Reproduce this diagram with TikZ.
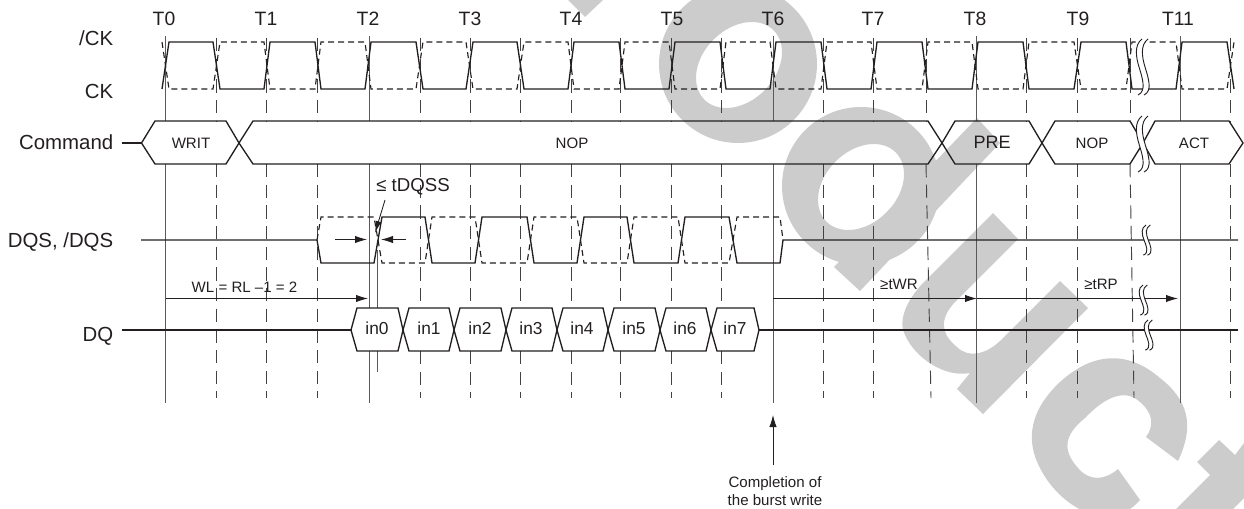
\documentclass[tikz,border=0pt]{standalone}
\usepackage{fontspec}
\setmainfont{Liberation Sans}
\usetikzlibrary{arrows.meta}
\definecolor{ink}{HTML}{231F20}
\definecolor{wm}{HTML}{CCCCCC}
\definecolor{vline}{HTML}{5A5A5A}
\tikzset{
  wave/.style={draw=ink,line width=1.0pt,line join=miter},
  dwave/.style={draw=ink,line width=0.85pt,dash pattern=on 4.5pt off 3pt},
  sig/.style={draw=ink,line width=1.0pt},
  hexa/.style={draw=ink,line width=1.0pt,line join=miter},
  tick/.style={draw=vline,line width=0.75pt},
  dtick/.style={draw=ink!85,line width=0.7pt,dash pattern=on 10pt off 5.5pt},
  dim/.style={draw=ink,line width=0.65pt,-{Latex[length=9pt,width=5.5pt]}},
  sidelab/.style={text=ink,inner sep=0pt,anchor=base east,font=\fontsize{15.3}{18}\selectfont},
  toplab/.style={text=ink,inner sep=0pt,anchor=base,font=\fontsize{14.5}{18}\selectfont},
  sm/.style={text=ink,inner sep=0pt,anchor=base,font=\fontsize{11.3}{14}\selectfont},
  indata/.style={text=ink,inner sep=0pt,anchor=base,font=\fontsize{13}{15}\selectfont},
  pics/brk/.style={code={
    \fill[white] (3,-28) .. controls (-5,-22) and (-3,-10) .. (0,0) .. controls (3,10) and (8,24) .. (-1,28)
      -- (5,28) .. controls (14,24) and (9,10) .. (6,0) .. controls (3,-10) and (1,-22) .. (9,-28) -- cycle;
    \draw[ink,line width=.7pt] (3,-28) .. controls (-5,-22) and (-3,-10) .. (0,0) .. controls (3,10) and (8,24) .. (-1,28);
    \draw[ink,line width=.7pt] (9,-28) .. controls (1,-22) and (3,-10) .. (6,0) .. controls (9,10) and (14,24) .. (5,28);
  }}
}
\begin{document}
\begin{tikzpicture}[x=0.75pt,y=-0.75pt]
\useasboundingbox (0,0) rectangle (1244,509);
\clip (0,0) rectangle (1244,509);
% watermark
\begin{scope}[wm]
\fill (568,0) -- (585,17) -- (603,0) -- cycle;
\fill[even odd rule] (738,64) circle[radius=59.25pt] (739,65) ellipse[x radius=36.75pt,y radius=27pt,rotate=45];
\fill[even odd rule] (861,186) circle[radius=59.25pt] (861,187) ellipse[x radius=36.75pt,y radius=27pt,rotate=45];
\fill (834,267) -- (860,291) -- (1000,143) -- (977,118) -- cycle;
\fill (993,213) -- (925,281) .. controls (905,301) and (898,322) .. (905,335) .. controls (915,358) and (945,378) .. (970,373)
  -- (957,389) -- (983,414) -- (1088,308) -- (1060,281) -- (1000,341) .. controls (985,355) and (968,358) .. (957,347)
  .. controls (942,335) and (938,320) .. (955,302) -- (1018,239) -- cycle;
\fill (1178,461) .. controls (1195,425) and (1188,400) .. (1160,378) .. controls (1130,352) and (1095,350) .. (1060,382)
  .. controls (1030,410) and (1025,440) .. (1040,468) .. controls (1060,508) and (1110,535) .. (1140,500)
  -- (1118,469) .. controls (1105,480) and (1090,482) .. (1078,468) .. controls (1062,450) and (1064,435) .. (1085,418)
  .. controls (1105,397) and (1125,388) .. (1140,402) .. controls (1152,412) and (1155,425) .. (1146,437) -- cycle;
\fill (1219,440) -- (1197,462) -- (1210,475) -- (1176,509) -- (1233,509) -- (1244,498) -- (1244,443) -- (1235,455) -- cycle;
\end{scope}
% vertical grid lines
\foreach \x in {165,976,1180,773}{
  \draw[tick] (\x,36) -- (\x,121);
  \draw[tick] (\x,164) -- (\x,403);
}
\draw[tick] (369,36) -- (369,121) (369,164) -- (369,308) (369,351) -- (369,403);
\draw[tick] (377,250) -- (377,308) (377,351) -- (377,372);
\foreach \x/\y in {216/216,266/266,317/317,823/823,873/873,926/931,1026/1026,1077/1077,1130/1134,1230/1230}{
  \draw[dtick] (\x,38) -- (\x,121);
  \draw[dtick] (\x,164) -- (\y,398);
}
\foreach \x in {420,470,520,571,620,671,721}{
  \draw[dtick] (\x,38) -- (\x,121);
  \draw[dtick] (\x,164) -- (\x,308);
  \draw[dtick] (\x,351) -- (\x,398);
}
% labels left
\node[sidelab] (lck) at (113.5,46) {/CK};
\node[sidelab] (lckb) at (113.5,99) {CK};
\node[sidelab] (lcmd) at (113.5,150) {Command};
\node[sidelab] (ldqs) at (113.5,248) {DQS, /DQS};
\node[sidelab] (ldq) at (113.5,341) {DQ};
% top labels
\foreach \n/\x/\t in {t0/164/T0,t1/266/T1,t2/368/T2,t3/470/T3,t4/571/T4,t5/672/T5,t6/773/T6,t7/873/T7,t8/975/T8,t9/1078/T9,t11/1178/T11}{
  \node[toplab] (\n) at (\x,26) {\t};
}
% clock
\draw[dwave] (162,42)--(169,89)--(213,89)--(220,42)--(264,42)--(270,89)--(315,89)--(321,42)--(365,42)--(371,89)--(416,89)--(423,42)--(466,42)--(473,89)--(517,89)--(524,42)--(568,42)--(574,89)--(619,89)--(625,42)--(669,42)--(675,89)--(720,89)--(726,42)--(770,42)--(776,89)--(821,89)--(827,42)--(871,42)--(877,89)--(922,89)--(928,42)--(972,42)--(978,89)--(1023,89)--(1029,42)--(1074,42)--(1081,89)--(1126,89)--(1132,42)--(1176,42)--(1182,89)--(1227,89)--(1234,42);
\draw[wave] (162,89)--(169,42)--(213,42)--(220,89)--(264,89)--(270,42)--(315,42)--(321,89)--(365,89)--(371,42)--(416,42)--(423,89)--(466,89)--(473,42)--(517,42)--(524,89)--(568,89)--(574,42)--(619,42)--(625,89)--(669,89)--(675,42)--(720,42)--(726,89)--(770,89)--(776,42)--(821,42)--(827,89)--(871,89)--(877,42)--(922,42)--(928,89)--(972,89)--(978,42)--(1023,42)--(1029,89)--(1074,89)--(1081,42)--(1126,42)--(1132,89)--(1176,89)--(1182,42)--(1227,42)--(1234,89);
\pic at (1139,67) {brk};
% command row
\coordinate (cmdS) at (122,143);
\coordinate (cmdT) at (141.5,143);
\draw[sig] (cmdS) -- (cmdT);
\draw[hexa] (141.5,143)--(155,121)--(226,121)--(239,143)--(226,164)--(155,164)--cycle;
\draw[hexa] (239,143)--(253,121)--(928,121)--(942,143)--(928,164)--(253,164)--cycle;
\draw[hexa] (942,143)--(955,121)--(1029,121)--(1042,143)--(1029,164)--(955,164)--cycle;
\draw[hexa] (1042,143)--(1055,121)--(1130,121)--(1143,143)--(1130,164)--(1055,164)--cycle;
\draw[hexa] (1143,143)--(1155,121)--(1229,121)--(1243,143)--(1229,164)--(1155,164)--cycle;
\pic at (1139,144) {brk};
\node[indata,font=\fontsize{11.3}{14}\selectfont] (writ) at (191,149) {WRIT};
\node[sm] (nop1) at (572,149) {NOP};
\node[sm,font=\fontsize{13.5}{15}\selectfont] (pre) at (992,149) {PRE};
\node[sm] (nop2) at (1092,149) {NOP};
\node[sm] (act) at (1194,149) {ACT};
% DQS
\draw[dwave] (317,240)--(321,217)--(374,217)--(382,263)--(425,263)--(432,217)--(475,217)--(482,263)--(527,263)--(534,217)--(577,217)--(584,263)--(627,263)--(634,217)--(678,217)--(685,263)--(729,263)--(737,217)--(780,217)--(783,240);
\draw[wave] (141,240)--(317,240)--(321,263)--(374,263)--(382,217)--(425,217)--(432,263)--(475,263)--(482,217)--(527,217)--(534,263)--(577,263)--(584,217)--(627,217)--(634,263)--(678,263)--(685,217)--(729,217)--(737,263)--(780,263)--(783,240)--(1238,240);
\pic[xscale=.7,yscale=.54] at (1144,240) {brk};
% tDQSS
\node[toplab,font=\fontsize{14}{16}\selectfont,anchor=base west] (tdqss) at (376,192) {≤ tDQSS};
\coordinate (dqa) at (335,239.5); \coordinate (dqb) at (367,239.5);
\coordinate (dqc) at (406,239.5); \coordinate (dqd) at (381,239.5);
\coordinate (lea) at (385,200); \coordinate (leb) at (375,233);
\draw[dim] (dqa) -- (dqb);
\draw[dim] (dqc) -- (dqd);
\draw[draw=ink,line width=.65pt,-{Latex[length=9pt,width=4.5pt]}] (lea) -- (leb);
% WL
\node[sm] (wl) at (244.5,292) {WL = RL –1 = 2};
\coordinate (wla) at (165.5,298.5); \coordinate (wlb) at (368,298.5);
\draw[dim] (wla) -- (wlb);
% tWR / tRP
\node[sm] (twr) at (899,290) {≥tWR};
\node[sm] (trp) at (1101,290) {≥tRP};
\coordinate (wra) at (773,298.5); \coordinate (wrb) at (977,298.5); \coordinate (wrc) at (1178,298.5);
\draw[dim] (wra) -- (wrb);
\draw[dim] (wrb) -- (wrc);
\pic[xscale=.7,yscale=.54] at (1141,300) {brk};
% DQ
\coordinate (dqS) at (122,330); \coordinate (dqT) at (351,330);
\coordinate (dqU) at (759,330); \coordinate (dqV) at (1238,330);
\draw[sig] (dqS) -- (dqT);
\draw[sig] (dqU) -- (dqV);
\foreach \a/\b/\n/\cx in {351/403/in0/377,403/454/in1/429,454/506/in2/480,506/557/in3/531,557/608/in4/582,608/660/in5/634,660/711/in6/685,711/759/in7/735}{
  \draw[hexa] (\a,330)--(\a+6,308)--(\b-5,308)--(\b,330)--(\b-5,351)--(\a+6,351)--cycle;
  \node[indata] (\n) at (\cx,334) {\n};
}
\pic[xscale=.7,yscale=.54] at (1146,335) {brk};
% completion
\node[sm] (c1) at (775,487) {Completion of};
\node[sm] (c2) at (775,505) {the burst write};
\coordinate (ca) at (773,465); \coordinate (cb) at (773,415);
\draw[dim] (ca) -- (cb);
\end{tikzpicture}
\end{document}
